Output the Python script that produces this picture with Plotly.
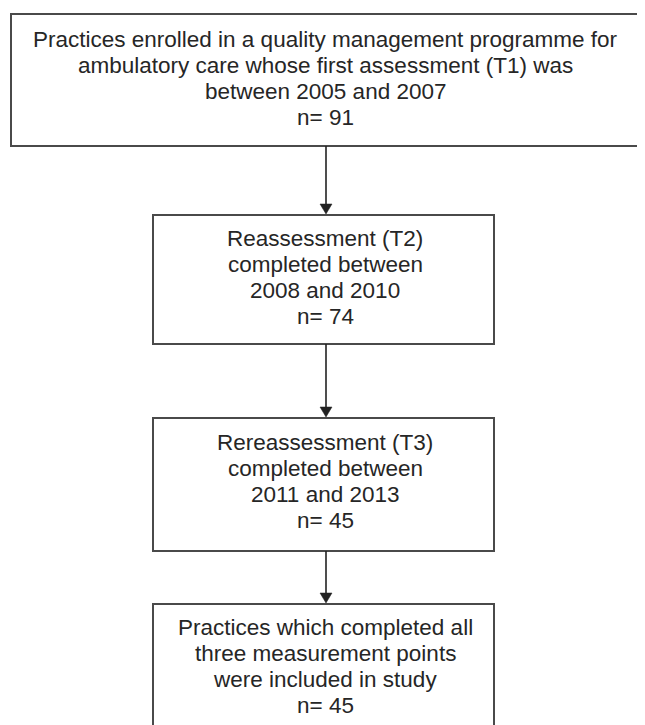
import plotly.graph_objects as go

# ---- data ----
stage_text = [
    ["Practices enrolled in a quality management programme for",
     "ambulatory care whose first assessment (T1) was",
     "between 2005 and 2007"],
    ["Reassessment (T2)", "completed between", "2008 and 2010"],
    ["Rereassessment (T3)", "completed between", "2011 and 2013"],
    ["Practices which completed all", "three measurement points",
     "were included in study"],
]
counts = [91, 74, 45, 45]

# ---- layout (pixel coordinates of the page) ----
W, H = 645, 725
PAGE_OFF = 8  # default body margin of the html page
boxes = [  # x0, y0, x1, y1
    (11, 14, 660, 146),
    (153, 215, 494, 344),
    (153, 418, 494, 551),
    (153, 604, 494, 750),
]
text_centers = [78, 277.5, 481, 666]
LINE = 26
ARROW_X = 326
BORDER = "#4a4a4a"
TXT = "#262626"
FONT = "Liberation Sans, Arial, sans-serif"
FS = 22.5

fig = go.Figure()
shapes = []
annotations = []

for i, (x0, y0, x1, y1) in enumerate(boxes):
    shapes.append(dict(type="rect", x0=x0, y0=y0, x1=x1, y1=y1,
                       line=dict(color=BORDER, width=2), fillcolor="white",
                       layer="below"))
    lines = stage_text[i] + [f"n= {counts[i]}"]
    n = len(lines)
    for j, t in enumerate(lines):
        y = text_centers[i] + (j - (n - 1) / 2) * LINE
        annotations.append(dict(x=325, y=y, text=t, showarrow=False,
                                xanchor="center", yanchor="middle",
                                font=dict(family=FONT, size=FS, color=TXT)))

# arrows between consecutive boxes
for i in range(len(boxes) - 1):
    ya = boxes[i][3]
    yb = boxes[i + 1][1]
    shapes.append(dict(type="line", x0=ARROW_X, x1=ARROW_X, y0=ya, y1=yb - 10,
                       line=dict(color="#222222", width=1.6)))
    shapes.append(dict(type="path",
                       path=f"M {ARROW_X-6},{yb-11} L {ARROW_X+6},{yb-11} L {ARROW_X},{yb-1} Z",
                       fillcolor="#222222", line=dict(color="#222222", width=0.5)))

fig.add_trace(go.Scatter(x=[PAGE_OFF + 1], y=[PAGE_OFF + 1], mode="markers",
                         marker=dict(opacity=0), hoverinfo="skip",
                         showlegend=False))

fig.update_layout(
    width=W, height=H,
    margin=dict(l=0, r=0, t=0, b=0),
    paper_bgcolor="white", plot_bgcolor="white",
    xaxis=dict(range=[PAGE_OFF, PAGE_OFF + W], visible=False, fixedrange=True),
    yaxis=dict(range=[PAGE_OFF + H, PAGE_OFF], visible=False, fixedrange=True),
    shapes=shapes, annotations=annotations,
    showlegend=False,
)

fig.write_html("out.html")
